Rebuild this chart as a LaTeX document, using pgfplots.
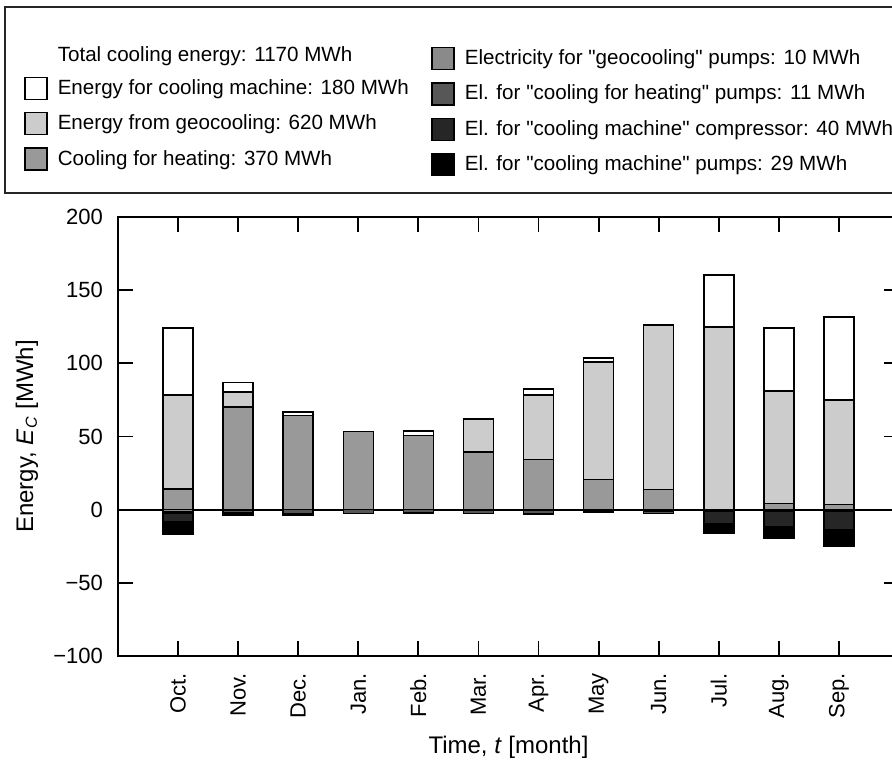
\documentclass[border=0pt]{standalone}
\usepackage{pgfplots}
\usepackage{pgfplotstable}
\pgfplotsset{compat=1.18}
\usepackage{fontspec}
\setmainfont{Liberation Sans}
\definecolor{cfh}{HTML}{999999}
\definecolor{geo}{HTML}{CCCCCC}
\definecolor{gp}{HTML}{8A8A8A}
\definecolor{hp}{HTML}{575757}
\definecolor{comp}{HTML}{262626}
\newcommand{\q}{\textquotedbl}

\pgfplotstableread{
idx cfh geo mach gp hp comp pump
0 14.0 64.5 45.5 -1.5 -1.0 -5.5 -8.5
1 70.0 10.3 6.6 -0.3 -2.0 -1.0 -0.7
2 64.2 0 2.5 0 -2.5 -0.5 -1.0
3 53.5 0 0 0 -2.5 0 -0.2
4 50.8 0 3.0 0 -2.4 -0.2 -0.2
5 39.5 22.6 0 -0.3 -2.2 0 -0.2
6 34.1 44.4 4.1 -0.5 -2.0 -0.2 -0.2
7 20.5 80.3 2.7 -0.8 -1.0 0 0
8 13.7 112.6 0 -1.0 -1.5 0 -0.2
9 0 124.7 35.7 -0.8 0 -8.8 -6.3
10 4.1 77.1 42.8 -0.8 -0.3 -10.7 -7.5
11 3.4 71.7 56.4 -0.8 -0.3 -12.6 -11.3
}\data

\pgfplotsset{
  common/.style={
    width=390.5pt, height=219.5pt, scale only axis,
    xmin=-1, xmax=12, ymin=-100, ymax=200,
    ybar stacked, bar width=15pt,
    clip=false,
    every axis plot/.append style={draw=black, line width=0.75pt},
    legend image code/.code={\draw[#1, line width=0.7pt] (0pt,-5.5pt) rectangle (11pt,5.5pt);},
  },
}

\begin{document}
\begin{tikzpicture}
\begin{axis}[common,
  axis line style={line width=1pt},
  tick style={line width=0.9pt, black},
  major tick length=7.5pt,
  tick align=inside,
  xtick pos=both, ytick pos=both,
  xtick={0,...,11},
  xticklabels={Oct.,Nov.,Dec.,Jan.,Feb.,Mar.,Apr.,May,Jun.,Jul.,Aug.,Sep.},
  xticklabel style={rotate=90, anchor=east, xshift=-5pt, font=\fontsize{11}{13}\selectfont},
  ytick={-100,-50,0,50,100,150,200},
  yticklabels={−100,−50,0,50,100,150,200},
  yticklabel style={xshift=-4pt, font=\fontsize{11}{13}\selectfont},
  xlabel={Time, \textit{t} [month]},
  ylabel={Energy, \textit{E}\textsubscript{\textit{C}} [MWh]},
  label style={font=\fontsize{12}{14}\selectfont},
  xlabel style={at={(axis description cs:0.5,-0.2073)}, anchor=center},
  ylabel style={at={(axis description cs:-0.1165,0.5)}, anchor=center},
  legend style={at={(-0.1204,1.3888)}, anchor=north west, draw=none, fill=none,
    inner sep=0pt, row sep=6pt, column sep=5pt, nodes={inner sep=0pt},
    font=\fontsize{10.3}{12}\selectfont},
  legend cell align=left,
]
\addplot[fill=cfh, forget plot] table[x=idx, y=cfh] {\data};
\addplot[fill=geo, forget plot] table[x=idx, y=geo] {\data};
\addplot[fill=white, forget plot] table[x=idx, y=mach] {\data};
\addlegendimage{empty legend}
\addlegendentry{Total cooling energy: 1170 MWh}
\addlegendimage{draw=black, fill=white}
\addlegendentry{Energy for cooling machine: 180 MWh}
\addlegendimage{draw=black, fill=geo}
\addlegendentry{Energy from geocooling: 620 MWh}
\addlegendimage{draw=black, fill=cfh}
\addlegendentry{Cooling for heating: 370 MWh}
\coordinate (bbl) at (rel axis cs:-0.15109,-0.24374);
\coordinate (btr) at (rel axis cs:0.99104,1.49431);
\coordinate (lgl) at (rel axis cs:-0.14469,1.05467);
\coordinate (lgr) at (rel axis cs:1.05,1.47836);
\end{axis}
\begin{axis}[common, hide axis,
  legend style={at={(0.4008,1.3888)}, anchor=north west, draw=none, fill=none,
    inner sep=0pt, row sep=6pt, column sep=5pt, nodes={inner sep=0pt},
    font=\fontsize{10.3}{12}\selectfont},
  legend cell align=left,
]
\addplot[fill=gp, forget plot] table[x=idx, y=gp] {\data};
\addplot[fill=hp, forget plot] table[x=idx, y=hp] {\data};
\addplot[fill=comp, forget plot] table[x=idx, y=comp] {\data};
\addplot[fill=black, forget plot] table[x=idx, y=pump] {\data};
\addlegendimage{draw=black, fill=gp}
\addlegendentry{Electricity for \q geocooling\q{} pumps: 10 MWh}
\addlegendimage{draw=black, fill=hp}
\addlegendentry{El. for \q cooling for heating\q{} pumps: 11 MWh}
\addlegendimage{draw=black, fill=comp}
\addlegendentry{El. for \q cooling machine\q{} compressor: 40 MWh}
\addlegendimage{draw=black, fill=black}
\addlegendentry{El. for \q cooling machine\q{} pumps: 29 MWh}
\draw[line width=1pt] (axis cs:-1,0) -- (axis cs:12,0);
\end{axis}
\draw[line width=0.8pt, black!85] (lgl) rectangle (lgr);
\pgfresetboundingbox
\path[use as bounding box] (bbl) rectangle (btr);
\end{tikzpicture}
\end{document}
